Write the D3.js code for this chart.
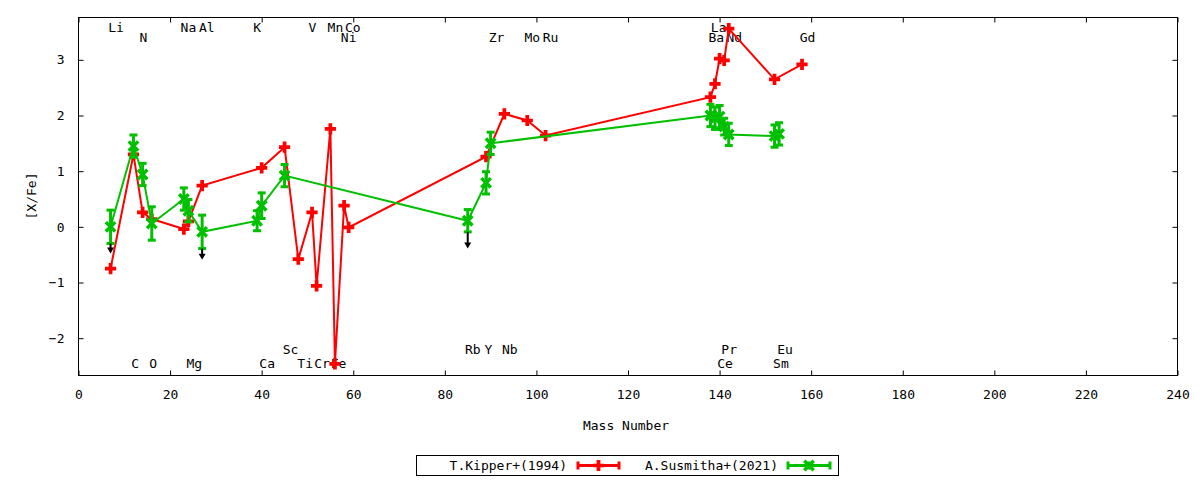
<!DOCTYPE html>
<html>
<head>
<meta charset="utf-8">
<script src="https://cdn.jsdelivr.net/npm/d3@7"></script>
<style>
  body { margin: 0; background: #fff; }
  text { font-family: "DejaVu Sans Mono", monospace; font-size: 13px; fill: #000; }
</style>
</head>
<body>
<svg width="1200" height="480"></svg>
<script>
// T.Kipper+(1994)
const kipperMass = [7, 12, 14, 16, 23, 24, 27, 40, 45, 48, 51, 52, 55, 56, 58, 59, 89, 93, 98, 102, 138, 139, 140, 141, 142, 152, 158]
const kipperXFe = [-0.75, 1.3, 0.26, 0.14, -0.04, 0.1, 0.74, 1.06, 1.43, -0.58, 0.26, -1.06, 1.76, -2.46, 0.38, -0.01, 1.26, 2.03, 1.91, 1.64, 2.33, 2.57, 3.02, 2.99, 3.56, 2.65, 2.92]

// A.Susmitha+(2021)
const susMass = [7, 12, 14, 16, 23, 24, 27, 39, 40, 45, 85, 89, 90, 138, 139, 140, 141, 142, 152, 153]
const susXFe = [0.0, 1.45, 0.94, 0.06, 0.5, 0.29, -0.09, 0.11, 0.38, 0.92, 0.11, 0.79, 1.5, 2.0, 1.95, 1.98, 1.8, 1.66, 1.63, 1.67]
const susErr = [0.3, 0.2, 0.2, 0.3, 0.2, 0.2, 0.3, 0.18, 0.23, 0.2, 0.2, 0.2, 0.2, 0.2, 0.2, 0.2, 0.15, 0.2, 0.2, 0.2]

// upper limits (arrows)
const limitMass = [7, 27, 85]
const limitFrom = [-0.3, -0.39, -0.09]
const limitTo = [-0.48, -0.59, -0.39]

// element labels
const topNames = ['Li', 'Na', 'Al', 'K', 'V', 'Mn', 'Co', 'La']
const topPos = [8.2, 24, 28, 39, 51.1, 56.1, 59.9, 139.8]
const secondNames = ['N', 'Ni', 'Zr', 'Mo', 'Ru', 'Ba', 'Nd', 'Gd']
const secondPos = [14.2, 59, 91.3, 99.1, 103.1, 139.3, 143.2, 159.2]
const lowNames = ['C', 'O', 'Mg', 'Ca', 'Ti', 'Cr', 'Fe', 'Ce', 'Sm']
const lowPos = [12.4, 16.3, 25.3, 41.2, 49.5, 53.2, 56.8, 141.2, 153.4]
const upperLowNames = ['Sc', 'Rb', 'Y', 'Nb', 'Pr', 'Eu']
const upperLowPos = [46.3, 86.1, 89.5, 94.2, 142.1, 154.3]
const labelRows = [3.59, 3.4, -2.46, -2.21]

const xTicks = d3.range(0, 241, 20)
const yTicks = [-2, -1, 0, 1, 2, 3]

const svg = d3.select('svg')
const margin = { left: 78.5, right: 1177.5, top: 17.5, bottom: 375.5 }

const x = d3.scaleLinear().domain([0, 240]).range([margin.left, margin.right])
const y = d3.scaleLinear().domain([-2.67, 3.76]).range([margin.bottom, margin.top])

const RED = '#ff0000'
const GREEN = '#00c000'

// axes (gnuplot style, inward ticks, mirrored)
const tl = 5
svg.append('g').attr('transform', `translate(0,${margin.bottom})`)
    .call(d3.axisBottom(x).tickValues(xTicks).tickSize(-tl).tickPadding(14).tickFormat(d3.format('d')))
svg.append('g').attr('transform', `translate(0,${margin.top})`)
    .call(d3.axisTop(x).tickValues(xTicks).tickSize(-tl).tickFormat(''))
svg.append('g').attr('transform', `translate(${margin.left},0)`)
    .call(d3.axisLeft(y).tickValues(yTicks).tickSize(-tl).tickPadding(14).tickFormat(d => d < 0 ? '\u2212' + Math.abs(d) : d))
svg.append('g').attr('transform', `translate(${margin.right},0)`)
    .call(d3.axisRight(y).tickValues(yTicks).tickSize(-tl).tickFormat(''))
svg.selectAll('.domain').remove()
svg.selectAll('.tick line').attr('stroke', '#000')
svg.selectAll('.tick text').style('font-family', '"DejaVu Sans Mono", monospace').style('font-size', '13px')

svg.append('rect')
    .attr('x', margin.left).attr('y', margin.top)
    .attr('width', margin.right - margin.left).attr('height', margin.bottom - margin.top)
    .attr('fill', 'none').attr('stroke', '#000').attr('stroke-width', 1)

// axis titles
svg.append('text').attr('x', 626).attr('y', 430).attr('text-anchor', 'middle').text('Mass Number')
svg.append('text').attr('transform', 'translate(36,196) rotate(-90)').attr('text-anchor', 'middle').text('[X/Fe]')

// element labels
const labelGroups = [[topNames, topPos], [secondNames, secondPos], [lowNames, lowPos], [upperLowNames, upperLowPos]]
labelGroups.forEach(([names, pos], r) => {
    svg.append('g').selectAll('text').data(names).enter().append('text')
        .attr('x', (d, i) => x(pos[i]))
        .attr('y', y(labelRows[r]))
        .attr('dy', '0.35em')
        .attr('text-anchor', 'middle')
        .text(d => d)
})

const line = d3.line().x(d => x(d[0])).y(d => y(d[1]))

// red series
const kipper = kipperMass.map((m, i) => [m, kipperXFe[i]])
svg.append('path').datum(kipper).attr('d', line)
    .attr('fill', 'none').attr('stroke', RED).attr('stroke-width', 2)
svg.append('g').selectAll('path').data(kipper).enter().append('path')
    .attr('d', d3.symbol(d3.symbolCross, 70)())
    .attr('transform', d => `translate(${x(d[0])},${y(d[1])})`)
    .attr('fill', RED)

// green series
const sus = susMass.map((m, i) => [m, susXFe[i], susErr[i]])
svg.append('path').datum(sus).attr('d', line)
    .attr('fill', 'none').attr('stroke', GREEN).attr('stroke-width', 2)
const gp = svg.append('g').selectAll('g').data(sus).enter().append('g')
    .attr('stroke', GREEN).attr('stroke-width', 3).attr('fill', 'none')
gp.append('line')
    .attr('x1', d => x(d[0])).attr('x2', d => x(d[0]))
    .attr('y1', d => y(d[1] - d[2])).attr('y2', d => y(d[1] + d[2]))
gp.append('line')
    .attr('x1', d => x(d[0]) - 4).attr('x2', d => x(d[0]) + 4)
    .attr('y1', d => y(d[1] - d[2])).attr('y2', d => y(d[1] - d[2]))
gp.append('line')
    .attr('x1', d => x(d[0]) - 4).attr('x2', d => x(d[0]) + 4)
    .attr('y1', d => y(d[1] + d[2])).attr('y2', d => y(d[1] + d[2]))
gp.append('path')
    .attr('d', d3.symbol(d3.symbolTimes, 60)())
    .attr('transform', d => `translate(${x(d[0])},${y(d[1])})`)
    .attr('stroke-width', 3.5)

// upper-limit arrows
const lim = svg.append('g').selectAll('g').data(limitMass).enter().append('g')
lim.append('line')
    .attr('x1', d => x(d)).attr('x2', d => x(d))
    .attr('y1', (d, i) => y(limitFrom[i])).attr('y2', (d, i) => y(limitTo[i]) - 3)
    .attr('stroke', '#000').attr('stroke-width', 2)
lim.append('path')
    .attr('d', (d, i) => {
        const cx = x(d), ty = y(limitTo[i])
        return `M${cx - 3.5},${ty - 6}L${cx + 3.5},${ty - 6}L${cx},${ty}Z`
    })
    .attr('fill', '#000')

// legend
const lg = svg.append('g')
lg.append('rect').attr('x', 416.5).attr('y', 455.5).attr('width', 422).attr('height', 20)
    .attr('fill', 'none').attr('stroke', '#000')
const legendItems = [
    { name: 'T.Kipper+(1994)', color: RED, tx: 567, x1: 578, x2: 619, kind: 'plus' },
    { name: 'A.Susmitha+(2021)', color: GREEN, tx: 778, x1: 788, x2: 830, kind: 'times' }
]
legendItems.forEach(it => {
    const ly = 465.5
    lg.append('text').attr('x', it.tx).attr('y', ly).attr('dy', '0.35em').attr('text-anchor', 'end').text(it.name)
    const g = lg.append('g').attr('stroke', it.color).attr('stroke-width', 3)
    g.append('line').attr('x1', it.x1).attr('x2', it.x2).attr('y1', ly).attr('y2', ly)
    g.append('line').attr('x1', it.x1).attr('x2', it.x1).attr('y1', ly - 4).attr('y2', ly + 4)
    g.append('line').attr('x1', it.x2).attr('x2', it.x2).attr('y1', ly - 4).attr('y2', ly + 4)
    const cx = (it.x1 + it.x2) / 2
    if (it.kind === 'plus') {
        lg.append('path').attr('d', d3.symbol(d3.symbolCross, 70)())
            .attr('transform', `translate(${cx},${ly})`).attr('fill', it.color)
    } else {
        lg.append('path').attr('d', d3.symbol(d3.symbolTimes, 60)())
            .attr('transform', `translate(${cx},${ly})`).attr('fill', 'none')
            .attr('stroke', it.color).attr('stroke-width', 3.5)
        g.append('line').attr('x1', cx).attr('x2', cx).attr('y1', ly - 4).attr('y2', ly + 4)
    }
})
</script>
</body>
</html>
